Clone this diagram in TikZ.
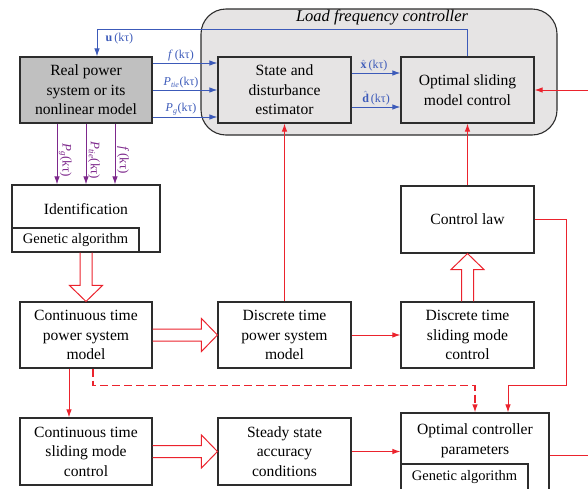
\documentclass[tikz,border=0pt]{standalone}
\usepackage{fontspec}
\setmainfont{Liberation Serif}
\usetikzlibrary{arrows.meta,calc}
\definecolor{lfcblue}{RGB}{60,90,185}
\definecolor{lfcred}{RGB}{235,35,45}
\definecolor{lfcpurple}{RGB}{125,40,140}
\definecolor{lfcgray}{RGB}{230,228,228}
\definecolor{plantgray}{RGB}{192,192,192}
\definecolor{boxline}{RGB}{45,45,45}
\newcommand{\fatarrow}[2]{%
\coordinate (fab) at ($(#2)!16pt!(#1)$);
\draw[fat] ($(#1)!6pt!90:(#2)$) -- ($(fab)!6pt!90:(#2)$) -- ($(fab)!16.5pt!90:(#2)$) -- (#2)
  -- ($(fab)!16.5pt!-90:(#2)$) -- ($(fab)!6pt!-90:(#2)$) -- ($(#1)!6pt!-90:(#2)$);
}
\begin{document}
\begin{tikzpicture}[x=1pt,y=-1pt,
  box/.style={draw=boxline,line width=1.1pt,minimum width=133pt,minimum height=66pt,align=center,inner sep=0pt,font=\fontsize{15.6}{19.5}\selectfont},
  gabox/.style={draw=boxline,line width=1.1pt,minimum width=127pt,minimum height=24pt,inner sep=0pt,font=\fontsize{14.5}{17}\selectfont},
  sig/.style={font=\fontsize{12}{13}\selectfont,inner sep=1.5pt},
  blue arrow/.style={draw=lfcblue,line width=1pt,-{Latex[length=8pt,width=5.5pt]}},
  purple arrow/.style={draw=lfcpurple,line width=1pt,-{Latex[length=8pt,width=5.5pt]}},
  red arrow/.style={draw=lfcred,line width=1pt,-{Latex[length=8pt,width=5.5pt]}},
  red line/.style={draw=lfcred,line width=1pt},
  fat/.style={draw=lfcred,line width=1pt,line join=miter}]
\useasboundingbox (0,0) rectangle (588,488);
\clip (0,0) rectangle (588,488);
\coordinate (redin) at (588,90);
\coordinate (redright) at (588,0);
\coordinate (clawr) at (566,385);

\draw[draw=boxline,line width=1.1pt,fill=lfcgray,rounded corners=25pt] (201,9) rectangle (557,135);
\node[font=\fontsize{16.5}{18}\selectfont\itshape] (lfctitle) at (382,17.5) {Load frequency controller};

\node[box,minimum width=132pt,fill=plantgray] (real) at (86,90) {Real power\\system or its\\nonlinear model};
\node[box,fill=lfcgray] (est) at (284.5,90) {State and\\disturbance\\estimator};
\node[box,fill=lfcgray] (osmc) at (467.5,90) {Optimal sliding\\model control};
\node[box,minimum width=148pt,minimum height=67pt] (ident) at (86,218.5) {};
\node[font=\fontsize{15.6}{19.5}\selectfont] (identtext) at (86,209) {Identification};
\node[gabox] (identga) at (75.5,240) {Genetic algorithm};
\node[box,minimum height=67pt] (claw) at (467.5,219.5) {Control law};
\node[box,minimum width=132pt] (cpow) at (86,335) {Continuous time\\power system\\model};
\node[box] (dpow) at (284.5,335) {Discrete time\\power system\\model};
\node[box] (dsmc) at (467.5,335) {Discrete time\\sliding mode\\control};
\node[box,minimum width=132pt,minimum height=67pt] (csmc) at (86,451.5) {Continuous time\\sliding mode\\control};
\node[box,minimum height=67pt] (ssac) at (284.5,451.5) {Steady state\\accuracy\\conditions};
\node[box,minimum width=148pt,minimum height=85pt] (ocp) at (475,455.5) {};
\node[font=\fontsize{15.6}{19.5}\selectfont,align=center] (ocptext) at (475,440.5) {Optimal controller\\parameters};
\node[gabox,minimum height=26pt] (ocpga) at (464.5,477) {Genetic algorithm};

\foreach \dy/\sname [count=\i] in {27/{\textit{f}\,(kτ)},0/{\textit{P}\textsubscript{\textit{tie}}(kτ)},-27/{\textit{P}\textsubscript{\textit{g}}(kτ)}}{
\draw[blue arrow] ([yshift=\dy pt]real.east) -- ([yshift=\dy pt]est.west)
  node[sig,midway,above,xshift=-4pt,text=lfcblue] (in\i) {\sname};
}
\draw[blue arrow] ([yshift=17pt]est.east) -- ([yshift=17pt]osmc.west)
  node[sig,midway,above,xshift=-2pt,text=lfcblue] (xhat) {$\hat{\mathbf{x}}$\,(kτ)};
\draw[blue arrow] ([yshift=-17pt]est.east) -- ([yshift=-17pt]osmc.west)
  node[sig,midway,above,xshift=0pt,text=lfcblue] (dhat) {$\hat{\mathbf{d}}$\,(kτ)};
\draw[blue arrow] (osmc.north) |- ([xshift=11pt,yshift=27pt]real.north) -- ([xshift=11pt]real.north);
\node[sig,anchor=west,text=lfcblue] (ulabel) at (104,39) {\textbf{u}\,(kτ)};

\foreach \dx/\sname [count=\i] in {-29/{\textit{P}\textsubscript{\textit{g}}(kτ)},0/{\textit{P}\textsubscript{\textit{tie}}(kτ)},29/{\textit{f}\,(kτ)}}{
\draw[purple arrow] ([xshift=\dx pt]real.south) -- ([xshift=\dx pt]ident.north)
  node[sig,font=\fontsize{13}{14}\selectfont,pos=0.6,rotate=-90,anchor=south,text=lfcpurple] (meas\i) {\sname};
}

\fatarrow{ident.south}{cpow.north}
\fatarrow{cpow.east}{dpow.west}
\fatarrow{dsmc.north}{claw.south}
\fatarrow{csmc.east}{ssac.west}

\draw[red arrow] (dpow.north) -- (est.south);
\draw[red arrow] (claw.north) -- (osmc.south);
\draw[red arrow] (redin) -- (osmc.east);
\draw[red arrow] (dpow.east) -- (dsmc.west);
\draw[red arrow] (claw.east) -| (clawr) -| ([xshift=33pt]ocp.north);
\draw[red arrow,line width=1.2pt,dash pattern=on 8pt off 4pt] ([xshift=7pt]cpow.south) |- ([yshift=27pt]ocp.north) -- (ocp.north);
\draw[red arrow] ([xshift=-17pt]cpow.south) -- ([xshift=-17pt]csmc.north);
\draw[red arrow] (ssac.east) -- (ssac.east -| ocp.west);
\draw[red line] (ocp.east) -- (ocp.east -| redright);
\end{tikzpicture}
\end{document}
